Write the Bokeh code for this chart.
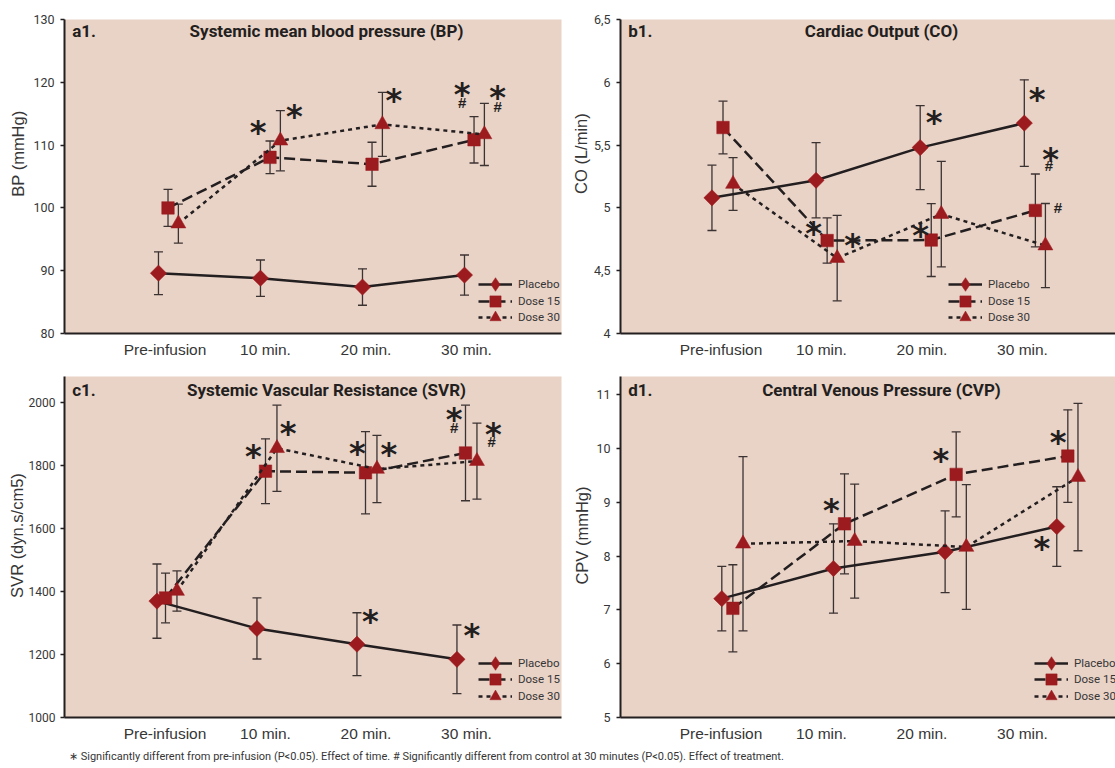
import math
from bokeh.plotting import figure
from bokeh.models import (Range1d, FixedTicker, Whisker, TeeHead, ColumnDataSource,
                          Legend, LegendItem, Div)
from bokeh.layouts import column, row
from bokeh.core.properties import value
from bokeh.embed import file_html
from bokeh.resources import INLINE

# ---------------- data ----------------
timepoints = ["Pre-infusion", "10 min.", "20 min.", "30 min."]
groups = ["Placebo", "Dose 15", "Dose 30"]

bp_placebo = [89.6, 88.8, 87.4, 89.3]
bp_placebo_err = [3.4, 2.9, 2.9, 3.2]
bp_dose15 = [100.0, 108.05, 106.95, 110.85]
bp_dose15_err = [2.95, 2.6, 3.5, 3.7]
bp_dose30 = [97.5, 110.7, 113.3, 111.7]
bp_dose30_err = [3.1, 4.8, 5.1, 4.95]

co_placebo = [5.08, 5.22, 5.48, 5.675]
co_placebo_err = [0.26, 0.30, 0.335, 0.345]
co_dose15 = [5.64, 4.74, 4.744, 4.98]
co_dose15_err = [0.21, 0.18, 0.29, 0.29]
co_dose30 = [5.19, 4.60, 4.95, 4.70]
co_dose30_err = [0.21, 0.34, 0.42, 0.335]

svr_placebo = [1370, 1283, 1233, 1185]
svr_placebo_err = [118, 97, 100, 109]
svr_dose15 = [1380, 1783, 1778, 1841]
svr_dose15_err = [79, 103, 131, 152]
svr_dose30 = [1402, 1856, 1790, 1815]
svr_dose30_err = [64, 137, 107, 121]

cvp_placebo = [7.21, 7.77, 8.08, 8.55]
cvp_placebo_err = [0.60, 0.83, 0.76, 0.74]
cvp_dose15 = [7.03, 8.60, 9.52, 9.86]
cvp_dose15_err = [0.81, 0.93, 0.79, 0.86]
cvp_dose30 = [8.23, 8.28, 8.17, 9.47]
cvp_dose30_err = [1.62, 1.06, 1.16, 1.37]

# significance marks: (group index, timepoint index, symbol)
bp_marks = [(1, 1, "*"), (2, 1, "*"), (2, 2, "*"), (1, 3, "*"), (1, 3, "#"), (2, 3, "*"), (2, 3, "#")]
co_marks = [(0, 2, "*"), (0, 3, "*"), (1, 1, "*"), (2, 1, "*"), (1, 2, "*"), (1, 3, "*"), (1, 3, "#"), (2, 3, "#")]
svr_marks = [(1, 1, "*"), (2, 1, "*"), (1, 2, "*"), (2, 2, "*"), (1, 3, "*"), (1, 3, "#"),
             (2, 3, "*"), (2, 3, "#"), (0, 2, "*"), (0, 3, "*")]
cvp_marks = [(1, 1, "*"), (1, 2, "*"), (1, 3, "*"), (0, 3, "*")]

bp_yticks = [80, 90, 100, 110, 120, 130]
co_yticks = [4, 4.5, 5, 5.5, 6, 6.5]
co_ytick_labels = ["4", "4,5", "5", "5,5", "6", "6,5"]
svr_yticks = [1000, 1200, 1400, 1600, 1800, 2000]
cvp_yticks = [5, 6, 7, 8, 9, 10, 11]

footnote = ("\u2217 Significantly different from pre-infusion (P&lt;0.05). Effect of time. "
            "# Significantly different from control at 30 minutes (P&lt;0.05). Effect of treatment.")

# ---------------- style ----------------
PINK = "#e9d2c6"
RED = "#9b1b1f"
INK = "#231f20"
ERR = "#3b3232"
TXT = "#363636"
COND = "Roboto"
REG = "Liberation Sans"
PX_PER_CAT = 100.5
NBSP = "\u00a0"

marker_style = [dict(marker="square", size=11.5, angle=math.pi / 4),
                dict(marker="square", size=12.5, angle=0.0),
                dict(marker="triangle", size=15, angle=0.0)]
legend_marker = ["diamond", "square", "triangle"]
legend_glyph_h = [36, 28, 28]
line_dash = ["solid", "11 5", "4 4"]

STAR_SHIFT = 5.0
HASH_SHIFT = -1.7


def make_panel(spec, series, errs, marks, mark_offsets, yticks, ytick_labels=None):
    fw, fh = spec["frame_w"], spec["frame_h"]
    ymin, ymax = spec["yrange"]
    p = figure(width=spec["w"], height=spec["h"],
               x_range=Range1d(0, fw / PX_PER_CAT), y_range=Range1d(ymin, ymax),
               output_backend="svg", toolbar_location=None, tools="",
               background_fill_color=PINK, border_fill_color="white",
               outline_line_color=None)
    p.min_border = 0
    p.min_border_left = spec["bl"]
    p.min_border_right = spec["br"]
    p.min_border_top = spec["bt"]
    p.min_border_bottom = spec["bb"]
    p.xgrid.visible = False
    p.ygrid.visible = False

    stretch = spec["stretch"]
    offs = spec["offsets"]

    def xpos(g, i):
        return 1 + offs[g] + stretch * i

    renderers = []
    for g in range(3):
        xs = [xpos(g, i) for i in range(len(timepoints))]
        m = series[g]
        e = errs[g]
        src = ColumnDataSource(dict(x=xs, y=m, upper=[a + b for a, b in zip(m, e)],
                                    lower=[a - b for a, b in zip(m, e)]))
        w = Whisker(base="x", upper="upper", lower="lower", source=src,
                    line_color=ERR, line_width=1.3, level="underlay",
                    upper_head=TeeHead(size=9, line_color=ERR, line_width=1.3),
                    lower_head=TeeHead(size=9, line_color=ERR, line_width=1.3))
        p.add_layout(w)
        lr = p.line("x", "y", source=src, line_color=INK, line_width=2.5,
                    line_dash=line_dash[g])
        ms = marker_style[g]
        p.scatter("x", "y", source=src, marker=ms["marker"], size=ms["size"],
                  angle=ms["angle"], fill_color=RED, line_color=RED, line_width=0.5)
        # legend-only sample glyph (no data drawn)
        lg = p.scatter(x=[float("nan")], y=[float("nan")], marker=legend_marker[g],
                       fill_color=RED, line_color=RED, line_width=0.5)
        renderers.append((lr, lg))

    # significance marks
    for sym, font, size, shift in (("*", "DejaVu Sans", "32px", STAR_SHIFT),
                                   ("#", REG, "15px", HASH_SHIFT)):
        xs, ys, xo, yo, tx = [], [], [], [], []
        for (g, i, s), (dx, dy) in zip(marks, mark_offsets):
            if s != sym:
                continue
            xs.append(xpos(g, i))
            ys.append(series[g][i] + errs[g][i])
            xo.append(dx)
            yo.append(dy + shift)
            tx.append(s)
        if xs:
            ts = ColumnDataSource(dict(x=xs, y=ys, xo=xo, yo=yo, text=tx))
            p.text("x", "y", text="text", x_offset="xo", y_offset="yo", source=ts,
                   text_align="center", text_baseline="alphabetic",
                   text_font=value(font), text_font_style="bold",
                   text_font_size=size, text_color=INK)

    # tag + title inside the frame
    p.text(x=[spec["tag_px"] / PX_PER_CAT], y=[ymax], text=[spec["tag"]],
           y_offset=spec["title_off"], text_align="left", text_baseline="alphabetic",
           text_font=value(COND), text_font_style="bold", text_font_size="17px",
           text_color=INK)
    p.text(x=[spec["title_px"] / PX_PER_CAT], y=[ymax], text=[spec["title"]],
           y_offset=spec["title_off"], text_align="center", text_baseline="alphabetic",
           text_font=value(COND), text_font_style="bold", text_font_size="17px",
           text_color=INK)

    # axes
    xa = p.xaxis[0]
    xa.ticker = FixedTicker(ticks=[1, 2, 3, 4])
    xa.major_label_overrides = {k + 1: t for k, t in enumerate(timepoints)}
    xa.major_tick_out = 0
    xa.major_tick_in = 0
    xa.minor_tick_out = 0
    xa.minor_tick_in = 0
    xa.axis_line_width = 2
    xa.axis_line_color = INK
    xa.major_label_standoff = 7
    xa.major_label_text_font = REG
    xa.major_label_text_font_size = "15.5px"
    xa.major_label_text_color = TXT

    ya = p.yaxis[0]
    ya.ticker = FixedTicker(ticks=yticks)
    if ytick_labels:
        ya.major_label_overrides = {t: l for t, l in zip(yticks, ytick_labels)}
    ya.major_tick_out = 4
    ya.major_tick_in = 0
    ya.minor_tick_out = 0
    ya.minor_tick_in = 0
    ya.major_tick_line_width = 1.3
    ya.major_tick_line_color = INK
    ya.axis_line_width = 2
    ya.axis_line_color = INK
    ya.major_label_standoff = spec["tick_standoff"]
    ya.major_label_text_font = COND
    ya.major_label_text_font_size = spec["tick_size"]
    ya.major_label_text_color = TXT
    ya.axis_label = NBSP * spec["ylab_pad"] + spec["ylabel"]
    ya.axis_label_standoff = spec["ylab_standoff"]
    ya.axis_label_text_font = REG
    ya.axis_label_text_font_size = "16.5px"
    ya.axis_label_text_font_style = "normal"
    ya.axis_label_text_color = TXT

    # legend: one single-row legend per group so rows can sit closer than the glyph box
    vx = spec["legend_x"]
    for g in range(3):
        leg = Legend(items=[LegendItem(label=groups[g], renderers=list(renderers[g]))],
                     location=(vx, spec["legend_y"][g]), glyph_width=34,
                     glyph_height=legend_glyph_h[g],
                     label_standoff=6, padding=0, margin=0, label_height=16, spacing=0,
                     border_line_alpha=0, background_fill_alpha=0,
                     label_text_font=COND, label_text_font_size="11.5px",
                     label_text_color=TXT)
        p.add_layout(leg)
    return p


# panel geometry (pixels)
spec_a = dict(w=563, h=366, bl=64, br=2, bt=19, bb=33, frame_w=497, frame_h=314,
              yrange=(80, 130), stretch=1.015, offsets=(-0.065, 0.03, 0.133),
              tag="a1.", tag_px=7.7, title="Systemic mean blood pressure (BP)", title_px=262,
              title_off=11.5, ylabel="BP (mmHg)", ylab_pad=10, ylab_standoff=3,
              tick_size="12.5px", tick_standoff=6,
              legend_x=414, legend_y=(31, 18.5, 2.3))
spec_b = dict(w=552, h=366, bl=57, br=0, bt=19, bb=33, frame_w=495, frame_h=314,
              yrange=(4, 6.5), stretch=1.036, offsets=(-0.09, 0.02, 0.12),
              tag="b1.", tag_px=7.7, title="Cardiac Output (CO)", title_px=261,
              title_off=11.5, ylabel="CO (L/min)", ylab_pad=10, ylab_standoff=1,
              tick_size="12.5px", tick_standoff=6,
              legend_x=328, legend_y=(31, 18.5, 2.3))
spec_c = dict(w=563, h=381, bl=64, br=2, bt=10, bb=30, frame_w=497, frame_h=341,
              yrange=(1000, 2084), stretch=0.995, offsets=(-0.08, 0.005, 0.119),
              tag="c1.", tag_px=7.7, title="Systemic Vascular Resistance (SVR)", title_px=262,
              title_off=13, ylabel="SVR (dyn.s/cm5)", ylab_pad=5, ylab_standoff=0,
              tick_size="12px", tick_standoff=5,
              legend_x=414, legend_y=(36, 23.7, 7.3))
spec_d = dict(w=552, h=381, bl=57, br=0, bt=10, bb=30, frame_w=495, frame_h=341,
              yrange=(5, 11.34), stretch=1.111, offsets=(0.008, 0.118, 0.219),
              tag="d1.", tag_px=7.7, title="Central Venous Pressure (CVP)", title_px=261,
              title_off=13, ylabel="CPV (mmHg)", ylab_pad=5, ylab_standoff=2,
              tick_size="12.5px", tick_standoff=6,
              legend_x=414, legend_y=(36, 23.7, 7.3))

bp_mark_offsets = [(-12, -13.6), (14, 0), (11.4, 2.6), (-11.8, -27.6), (-11.8, -12.6),
                   (13.2, -11), (13.2, 4.6)]
co_mark_offsets = [(14, 11.7), (12.9, 14), (-13.6, 10.5), (15.4, 25), (-10.7, 26.2),
                   (15.3, -20.2), (13.5, -6.8), (12.5, 5.3)]
svr_mark_offsets = [(-12.1, 11.8), (11.1, 22.4), (-8.2, 16.3), (11.8, 13.8), (-11.4, 8.8),
                    (-11.4, 23.8), (16.5, 5.8), (14.7, 20.2), (13.5, 3.7), (15, 4.8)]
cvp_mark_offsets = [(-13.2, 31.1), (-15.4, 23.1), (-9.6, 26.9), (-15, 56.6)]

pa = make_panel(spec_a, [bp_placebo, bp_dose15, bp_dose30],
                [bp_placebo_err, bp_dose15_err, bp_dose30_err], bp_marks, bp_mark_offsets, bp_yticks)
pb = make_panel(spec_b, [co_placebo, co_dose15, co_dose30],
                [co_placebo_err, co_dose15_err, co_dose30_err], co_marks, co_mark_offsets,
                co_yticks, co_ytick_labels)
pc = make_panel(spec_c, [svr_placebo, svr_dose15, svr_dose30],
                [svr_placebo_err, svr_dose15_err, svr_dose30_err], svr_marks, svr_mark_offsets,
                svr_yticks)
pd_ = make_panel(spec_d, [cvp_placebo, cvp_dose15, cvp_dose30],
                 [cvp_placebo_err, cvp_dose15_err, cvp_dose30_err], cvp_marks, cvp_mark_offsets,
                 cvp_yticks)

foot = Div(text=footnote, width=1115, height=21, margin=(0, 0, 0, 0),
           styles={"font-family": "Roboto, sans-serif", "font-size": "11px",
                   "color": TXT, "padding-left": "69px", "line-height": "20px",
                   "white-space": "nowrap", "box-sizing": "border-box"})

layout = column(row(pa, pb), row(pc, pd_), foot)
open("out.html", "w").write(file_html(layout, INLINE))
